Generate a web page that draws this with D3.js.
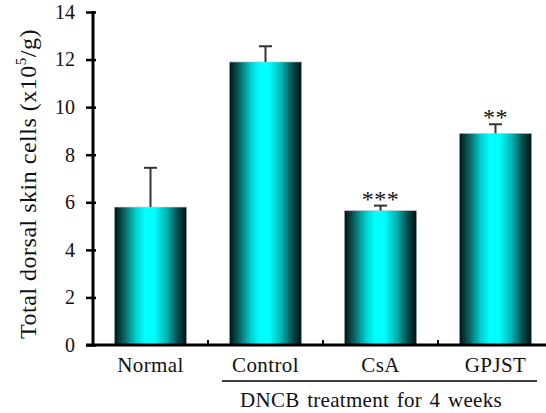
<!DOCTYPE html>
<html>
<head>
<meta charset="utf-8">
<script src="https://cdn.jsdelivr.net/npm/d3@7"></script>
<style>
  html, body { margin: 0; padding: 0; background: #fff; }
  svg { display: block; }
  text { font-family: "Liberation Serif", "DejaVu Serif", serif; fill: #111; }
</style>
</head>
<body>
<svg id="chart" width="546" height="413"></svg>
<script>
// Total dorsal skin cells per group
const categories = ["Normal", "Control", "CsA", "GPJST"];
const means = [5.8, 11.9, 5.65, 8.9];
const errors = [1.65, 0.66, 0.21, 0.38];
const stars = ["", "", "***", "**"];
const yTicks = [0, 2, 4, 6, 8, 10, 12, 14];

const svg = d3.select("#chart");

const x = d3.scaleBand()
  .domain(categories)
  .range([93, 553])
  .paddingInner(0.37)
  .paddingOuter(0.185);

const y = d3.scaleLinear().domain([0, 14]).range([345, 12]);

// Cylinder-like shading across each bar
const grad = svg.append("defs").append("linearGradient")
  .attr("id", "barShade").attr("x1", "0%").attr("x2", "100%").attr("y1", "0%").attr("y2", "0%");
[["0%", "#001414"], ["12%", "#0a5656"], ["30%", "#00d0d0"], ["42%", "#00ffff"],
 ["55%", "#00ffff"], ["72%", "#00b4b4"], ["88%", "#084848"], ["100%", "#001010"]]
  .forEach(([o, c]) => grad.append("stop").attr("offset", o).attr("stop-color", c));

// Bars
svg.selectAll("rect.bar").data(categories).enter().append("rect")
  .attr("class", "bar")
  .attr("x", d => x(d))
  .attr("width", x.bandwidth())
  .attr("y", (d, i) => y(means[i]))
  .attr("height", (d, i) => y(0) - y(means[i]))
  .attr("fill", "url(#barShade)")
  .attr("stroke", "#c8c8c8")
  .attr("stroke-width", 0.6);

// Error bars (upper only)
const eb = svg.append("g").attr("stroke", "#333").attr("stroke-width", 2);
categories.forEach((c, i) => {
  const cx = x(c) + x.bandwidth() / 2;
  eb.append("line").attr("x1", cx).attr("x2", cx)
    .attr("y1", y(means[i])).attr("y2", y(means[i] + errors[i]));
  eb.append("line").attr("x1", cx - 6.5).attr("x2", cx + 6.5)
    .attr("y1", y(means[i] + errors[i])).attr("y2", y(means[i] + errors[i]));
});

// Significance marks
svg.selectAll("text.sig").data(categories).enter().append("text")
  .attr("class", "sig")
  .attr("x", d => x(d) + x.bandwidth() / 2)
  .attr("y", (d, i) => y(means[i] + errors[i]) + 1)
  .attr("text-anchor", "middle")
  .attr("font-size", 24)
  .attr("letter-spacing", 0.5)
  .text((d, i) => stars[i]);

// Y axis
const yAxis = svg.append("g").attr("transform", "translate(93,0)")
  .call(d3.axisLeft(y).tickValues(yTicks).tickSize(7).tickSizeInner(7).tickPadding(11));
yAxis.select(".domain").remove();
yAxis.selectAll(".tick line").attr("x2", -7).attr("x1", 3).attr("stroke", "#000").attr("stroke-width", 2.5);
yAxis.selectAll(".tick text").attr("font-size", 20).attr("font-family", "Liberation Serif").attr("fill", "#111");
svg.append("line").attr("x1", 93).attr("x2", 93).attr("y1", y(14) - 1).attr("y2", y(0))
  .attr("stroke", "#000").attr("stroke-width", 3);

// X axis baseline with small separators between groups
svg.append("line").attr("x1", 86).attr("x2", 546).attr("y1", y(0)).attr("y2", y(0))
  .attr("stroke", "#000").attr("stroke-width", 3);
categories.slice(1).forEach(c => {
  const sx = x(c) - x.step() * x.paddingInner() / 2;
  svg.append("line").attr("x1", sx).attr("x2", sx).attr("y1", y(0)).attr("y2", y(0) - 5)
    .attr("stroke", "#000").attr("stroke-width", 2);
});

// Category labels
svg.selectAll("text.cat").data(categories).enter().append("text")
  .attr("class", "cat")
  .attr("x", d => x(d) + x.bandwidth() / 2)
  .attr("y", 372)
  .attr("text-anchor", "middle")
  .attr("font-size", 21)
  .attr("letter-spacing", 0.4)
  .text(d => d);

// Treatment bracket
svg.append("line").attr("x1", 222).attr("x2", 537).attr("y1", 381).attr("y2", 381)
  .attr("stroke", "#000").attr("stroke-width", 1.5);
svg.append("text").attr("x", 371).attr("y", 407).attr("text-anchor", "middle")
  .attr("font-size", 21).attr("word-spacing", 2).attr("letter-spacing", 0.3)
  .text("DNCB treatment for 4 weeks");

// Y axis title
const yt = svg.append("text")
  .attr("transform", "translate(36,184) rotate(-90)")
  .attr("text-anchor", "middle")
  .attr("font-size", 24)
  .attr("letter-spacing", 0.5);
yt.append("tspan").text("Total dorsal skin cells (x10");
yt.append("tspan").attr("font-size", 15).attr("dy", -10).text("5");
yt.append("tspan").attr("dy", 10).text("/g)");
</script>
</body>
</html>
